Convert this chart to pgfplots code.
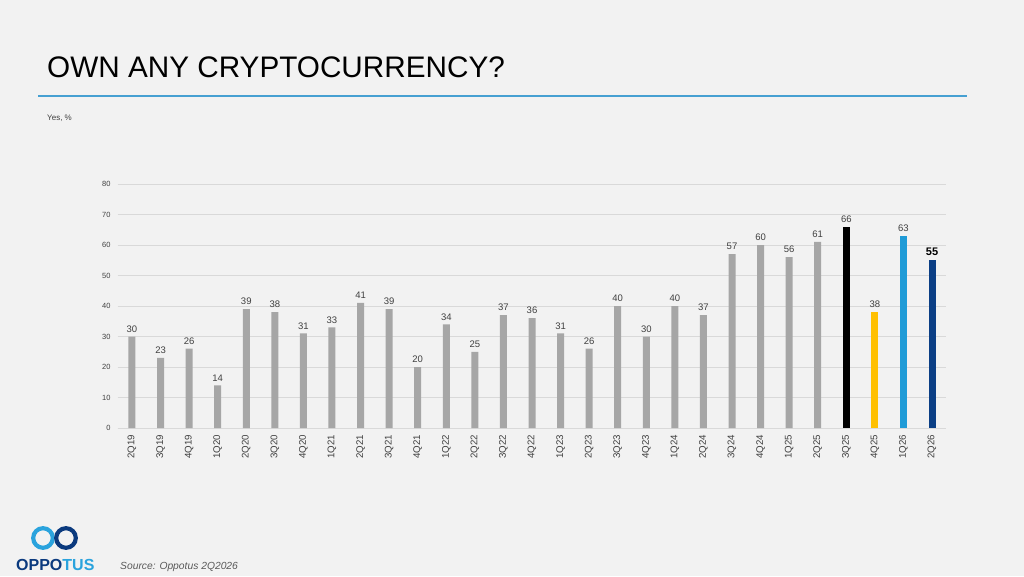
\documentclass[border=0pt]{standalone}
\usepackage{pgfplots}
\pgfplotsset{compat=1.18}
\usepackage{fontspec}
\setmainfont{Liberation Sans}
\definecolor{bg}{HTML}{F2F2F2}
\definecolor{gridgray}{HTML}{D9D9D9}
\definecolor{bargray}{HTML}{A6A6A6}
\definecolor{baryellow}{HTML}{FFC000}
\definecolor{barlblue}{HTML}{1F9BD7}
\definecolor{bardblue}{HTML}{0B3F85}
\definecolor{labgray}{HTML}{404040}
\definecolor{tickgray}{HTML}{404040}
\definecolor{srcgray}{HTML}{595959}
\definecolor{logolight}{HTML}{2AA3DD}
\definecolor{logodark}{HTML}{0B3A7E}
\definecolor{tline}{RGB}{70,160,210}
\begin{document}
\begin{tikzpicture}
\fill[bg] (0pt,0pt) rectangle (1024pt,576pt);
\node[anchor=base west, inner sep=0pt, font=\fontsize{29.7}{31}\selectfont] at (47pt,498pt) {OWN ANY CRYPTOCURRENCY?};
\fill[tline] (38pt,479.4pt) rectangle (967pt,480.6pt);
\node[anchor=base west, inner sep=0pt, font=\fontsize{8}{9}\selectfont, text=labgray] at (47pt,455pt) {Yes, \%};
\begin{axis}[
  at={(117.7pt,148pt)}, anchor=south west,
  scale only axis, width=828.6pt, height=244pt,
  ymin=0, ymax=80, xmin=-0.5, xmax=28.5,
  ytick={0,10,...,80},
  xtick={0,...,28},
  xticklabels={2Q19,3Q19,4Q19,1Q20,2Q20,3Q20,4Q20,1Q21,2Q21,3Q21,4Q21,1Q22,2Q22,3Q22,4Q22,1Q23,2Q23,3Q23,4Q23,1Q24,2Q24,3Q24,4Q24,1Q25,2Q25,3Q25,4Q25,1Q26,2Q26},
  major tick length=0pt,
  axis x line*=bottom, axis y line*=left,
  x axis line style={draw=gridgray, line width=0.8pt, -},
  y axis line style={draw=none},
  ymajorgrids, grid style={draw=gridgray, line width=0.8pt},
  /pgf/number format/assume math mode=true,
  yticklabel style={font=\fontsize{7.5}{8}\selectfont, text=tickgray, inner sep=0pt, xshift=-7pt},
  xticklabel style={font=\fontsize{9.7}{10}\selectfont, text=tickgray, inner sep=0pt, yshift=-7pt, rotate=90, anchor=east},
  ybar, bar width=7pt,
  nodes near coords,
  every node near coord/.append style={font=\fontsize{9.5}{10}\selectfont, text=labgray, inner sep=0pt, yshift=4pt, anchor=south},
  clip=false,
]
\addplot[draw=none, fill=bargray, bar shift=0pt] coordinates {
(0,30) (1,23) (2,26) (3,14) (4,39) (5,38) (6,31) (7,33) (8,41) (9,39)
(10,20) (11,34) (12,25) (13,37) (14,36) (15,31) (16,26) (17,40) (18,30) (19,40)
(20,37) (21,57) (22,60) (23,56) (24,61)};
\addplot[draw=none, fill=black, bar shift=0pt] coordinates {(25,66)};
\addplot[draw=none, fill=baryellow, bar shift=0pt] coordinates {(26,38)};
\addplot[draw=none, fill=barlblue, bar shift=0pt] coordinates {(27,63)};
\addplot[draw=none, fill=bardblue, bar shift=0pt,
  every node near coord/.append style={font=\bfseries\fontsize{11}{12}\selectfont, text=black}] coordinates {(28,55)};
\end{axis}
% logo
\draw[logolight, line width=4.2pt] (43pt,38pt) circle (9.8pt);
\draw[logodark, line width=4.2pt] (66pt,38pt) circle (9.8pt);
\node[anchor=base west, inner sep=0pt, font=\bfseries\fontsize{16}{17}\selectfont] at (16pt,6pt) {\textcolor{logodark}{OPPO}\textcolor{logolight}{TUS}};
\node[anchor=base west, inner sep=0pt, font=\itshape\fontsize{10.3}{11}\selectfont, text=srcgray] at (120pt,7pt) {Source: Oppotus 2Q2026};
\end{tikzpicture}
\end{document}
